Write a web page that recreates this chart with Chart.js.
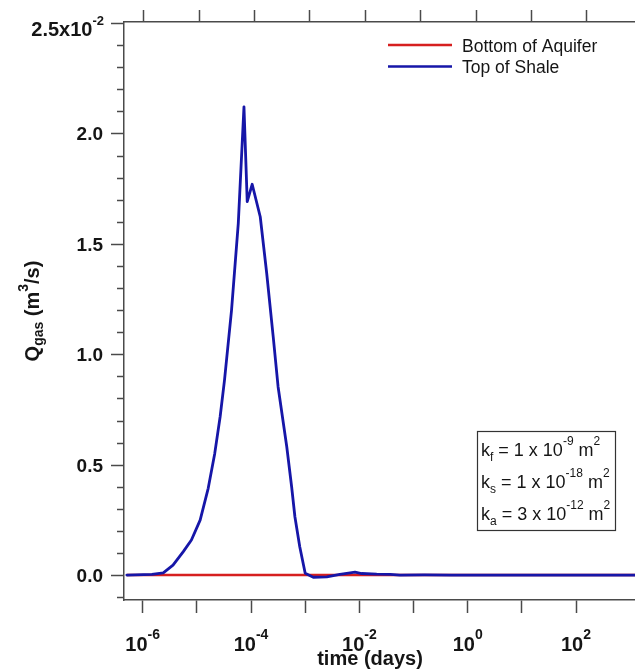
<!DOCTYPE html>
<html><head><meta charset="utf-8">
<script src="https://cdn.jsdelivr.net/npm/chart.js@4.4.1/dist/chart.umd.min.js"></script>
<style>html,body{margin:0;padding:0;background:#fff}#wrap{width:635px;height:671px}</style>
</head><body><div id="wrap"><canvas id="c" width="635" height="671"></canvas></div>
<script>
// ---- data (time in days, Q in units of 1e-2 m^3/s) ----
const seriesNames = ['Bottom of Aquifer', 'Top of Shale'];
const timeTopOfShale = [5.1e-7, 1.48e-6, 2.4e-6, 3.63e-6, 5.62e-6, 7.94e-6, 1.15e-5, 1.62e-5, 2.14e-5, 2.69e-5,
  3.24e-5, 4.37e-5, 5.82e-5, 7.41e-5, 8.51e-5, 1.05e-4, 1.48e-4, 1.95e-4, 2.57e-4, 3.16e-4,
  4.57e-4, 5.62e-4, 6.46e-4, 7.94e-4, 1.0e-3, 1.41e-3, 2.51e-3, 4.37e-3, 6.76e-3, 8.32e-3,
  1.10e-2, 2.09e-2, 3.72e-2, 5.62e-2, 0.158, 0.5, 10, 1230];
const qTopOfShale = [0, 0.003, 0.010, 0.045, 0.106, 0.159, 0.249, 0.393, 0.551, 0.717,
  0.883, 1.20, 1.593, 2.121, 1.691, 1.770, 1.623, 1.366, 1.079, 0.853,
  0.581, 0.400, 0.264, 0.128, 0.008, -0.010, -0.008, 0.003, 0.010, 0.013,
  0.007, 0.004, 0.003, 0.0, 0.001, 0.0, 0.0, 0.0];
const timeBottomOfAquifer = [5.1e-7, 1230];
const qBottomOfAquifer = [0, 0];
const xTickDecades = [-6, -5, -4, -3, -2, -1, 0, 1, 2];
const xLabelDecades = [-6, -4, -2, 0, 2];
const yTicks = [-0.1, 0, 0.1, 0.2, 0.3, 0.4, 0.5, 0.6, 0.7, 0.8, 0.9, 1.0, 1.1, 1.2, 1.3, 1.4,
  1.5, 1.6, 1.7, 1.8, 1.9, 2.0, 2.1, 2.2, 2.3, 2.4, 2.5];
const yLabelTicks = [0, 0.5, 1.0, 1.5, 2.0];
const yMajorTicks = [0, 0.5, 1.0, 1.5, 2.0, 2.5];

const FONT = '"Liberation Sans", Arial, sans-serif';
const AXIS = '#4a4a4a';
const TXT = '#151515';
const RED = '#d61f1f';
const BLUE = '#1616a8';

function fnt(size, bold) { return (bold ? 'bold ' : '') + size + 'px ' + FONT; }
function drawRich(ctx, segs, x, y, align) {
  let w = 0;
  segs.forEach(s => { ctx.font = fnt(s[1], s[2]); s.w = ctx.measureText(s[0]).width; w += s.w; });
  let cx = align === 'center' ? x - w / 2 : (align === 'right' ? x - w : x);
  ctx.textAlign = 'left'; ctx.textBaseline = 'alphabetic';
  segs.forEach(s => { ctx.font = fnt(s[1], s[2]); ctx.fillText(s[0], cx, y + s[3]); cx += s.w; });
}

const decorPlugin = {
  id: 'decor',
  afterDraw(chart) {
    const ctx = chart.ctx, ca = chart.chartArea;
    const xs = chart.scales.x, ys = chart.scales.y;
    ctx.save();
    // y tick marks (major long, minor short)
    ctx.strokeStyle = AXIS; ctx.lineWidth = 1.5;
    yTicks.forEach(v => {
      const py = Math.round(ys.getPixelForValue(v)) + 0.5;
      const len = yMajorTicks.includes(v) ? 13 : 7;
      ctx.beginPath(); ctx.moveTo(ca.left - len, py); ctx.lineTo(ca.left, py); ctx.stroke();
    });
    ctx.fillStyle = TXT;
    // y tick labels
    yLabelTicks.forEach(v => {
      const py = ys.getPixelForValue(v);
      drawRich(ctx, [[v.toFixed(1), 19, true, 0]], 103, py + 7, 'right');
    });
    // top y label
    drawRich(ctx, [['2.5x10', 20, true, 0], ['-2', 13, true, -11]], 104, 36, 'right');
    // x tick labels 10^n
    xLabelDecades.forEach(d => {
      const px = xs.getPixelForValue(Math.pow(10, d));
      drawRich(ctx, [['10', 20, true, 0], [String(d), 14, true, -12]], px, 651, 'center');
    });
    // x title
    drawRich(ctx, [['time (days)', 20, true, 0]], 370, 665, 'center');
    // y title
    ctx.save();
    ctx.translate(39, (ca.top + ca.bottom) / 2);
    ctx.rotate(-Math.PI / 2);
    drawRich(ctx, [['Q', 20, true, 0], ['gas', 14, true, 4], [' (m', 20, true, 0], ['3', 14, true, -11], ['/s)', 20, true, 0]], 0, 0, 'center');
    ctx.restore();
    // legend
    const leg = [[seriesNames[0], RED, 45, 51.5], [seriesNames[1], BLUE, 66.5, 73]];
    leg.forEach(l => {
      ctx.strokeStyle = l[1]; ctx.lineWidth = 2.5;
      ctx.beginPath(); ctx.moveTo(388, l[2]); ctx.lineTo(452, l[2]); ctx.stroke();
      ctx.fillStyle = TXT;
      drawRich(ctx, [[l[0], 17.5, false, 0]], 462, l[3], 'left');
    });
    // annotation box
    ctx.fillStyle = '#fff';
    ctx.fillRect(477.5, 431.5, 138, 99);
    ctx.strokeStyle = '#333'; ctx.lineWidth = 1.2;
    ctx.strokeRect(477.5, 431.5, 138, 99);
    ctx.fillStyle = TXT;
    const ann = [['f', '-9', 456], ['s', '-18', 488], ['a', '-12', 520]];
    ann.forEach(a => {
      const coef = a[0] === 'a' ? '3' : '1';
      drawRich(ctx, [['k', 18, false, 0], [a[0], 12, false, 5], [' = ' + coef + ' x 10', 18, false, 0],
        [a[1], 12, false, -11], [' m', 18, false, 0], ['2', 12, false, -11]], 481, a[2], 'left');
    });
    ctx.restore();
  }
};

const decadeTicks = arr => arr.map(d => ({ value: Math.pow(10, d) }));

new Chart(document.getElementById('c'), {
  type: 'line',
  data: {
    datasets: [
      { label: seriesNames[0], data: timeBottomOfAquifer.map((t, i) => ({ x: t, y: qBottomOfAquifer[i] })),
        borderColor: RED, borderWidth: 2.5, pointRadius: 0, tension: 0, order: 2, xAxisID: 'x', yAxisID: 'y' },
      { label: seriesNames[1], data: timeTopOfShale.map((t, i) => ({ x: t, y: qTopOfShale[i] })),
        borderColor: BLUE, borderWidth: 2.8, pointRadius: 0, tension: 0, order: 1, xAxisID: 'x', yAxisID: 'y',
        borderJoinStyle: 'round', borderCapStyle: 'round' }
    ]
  },
  options: {
    responsive: false, animation: false, devicePixelRatio: 1,
    layout: { padding: 0 },
    plugins: { legend: { display: false }, tooltip: { enabled: false } },
    scales: {
      x: {
        type: 'logarithmic', position: 'bottom',
        min: Math.pow(10, -6.345), max: Math.pow(10, 3.089),
        afterBuildTicks: s => { s.ticks = decadeTicks(xTickDecades); },
        afterFit: s => { s.height = 71; },
        grid: { display: true, drawOnChartArea: false, drawTicks: true, tickLength: 13, tickColor: AXIS, tickWidth: 1.5 },
        border: { display: true, color: AXIS, width: 1.5 },
        ticks: { display: false }
      },
      xTop: {
        type: 'logarithmic', position: 'top',
        min: Math.pow(10, -6.361), max: Math.pow(10, 2.873),
        afterBuildTicks: s => { s.ticks = decadeTicks(xTickDecades); },
        afterFit: s => { s.height = 22; },
        grid: { display: true, drawOnChartArea: false, drawTicks: true, tickLength: 12, tickColor: AXIS, tickWidth: 1.5 },
        border: { display: true, color: AXIS, width: 1.5 },
        ticks: { display: false }
      },
      y: {
        type: 'linear', position: 'left', min: -0.113, max: 2.505,
        afterBuildTicks: s => { s.ticks = yTicks.map(v => ({ value: v })); },
        afterFit: s => { s.width = 124; },
        grid: { display: true, drawOnChartArea: false, drawTicks: false },
        border: { display: true, color: AXIS, width: 1.5 },
        ticks: { display: false }
      }
    }
  },
  plugins: [decorPlugin]
});
</script>
</body></html>
